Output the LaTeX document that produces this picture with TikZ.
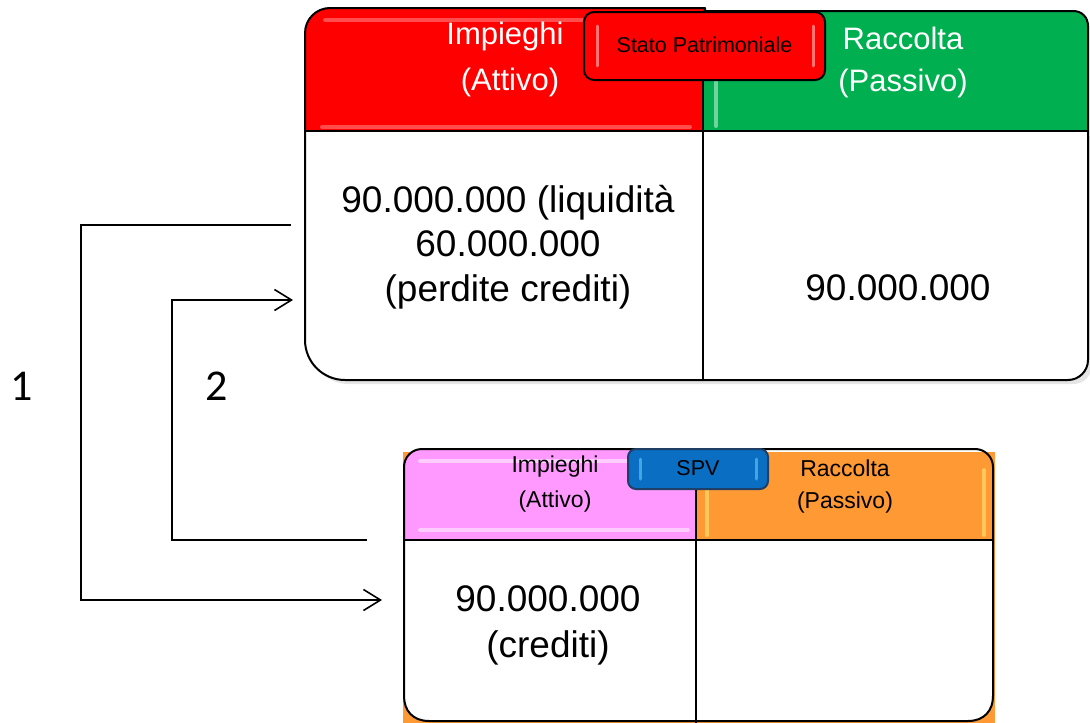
\documentclass[tikz,border=0pt]{standalone}
\usepackage{fontspec}
\setmainfont{Liberation Sans}
\newfontfamily\calfont{Carlito}
\usetikzlibrary{arrows.meta}
\definecolor{cRed}{HTML}{FF0000}
\definecolor{cGreen}{HTML}{00B050}
\definecolor{cPink}{HTML}{FF99FF}
\definecolor{cOrange}{HTML}{FF9933}
\definecolor{cBlue}{HTML}{0A6EC2}
\definecolor{cBlueDark}{HTML}{1F3F66}
\begin{document}
\begin{tikzpicture}[x=1pt,y=-1pt,
  boxline/.style={draw=black,line width=2pt,line join=round},
  hl/.style={line width=4pt,line cap=round,opacity=0.3},
  arr/.style={line width=1.6pt,-{Straight Barb[length=17pt,width=21pt,line width=1.6pt]}},
  hdrW/.style={text=white,font=\fontsize{31}{36}\selectfont,inner sep=0pt},
  hdrB/.style={text=black,font=\fontsize{23}{28}\selectfont,inner sep=0pt},
  bodytxt/.style={text=black,font=\fontsize{37}{44.5}\selectfont,align=center,inner sep=0pt},
  tabtxt/.style={text=black,font=\fontsize{21.5}{26}\selectfont,inner sep=0pt},
  lbl/.style={text=black,font=\calfont\fontsize{44}{50}\selectfont,inner sep=0pt}]
\useasboundingbox (0,0) rectangle (1090,723);
\fill[white] (0,0) rectangle (1090,723);

% ---------- top box (Stato Patrimoniale) ----------
% shadow
\fill[black!10] (309,136) -- (309,344) .. controls (309,366) and (327,384) .. (349,384) -- (1073,384) .. controls (1084,384) and (1092,376) .. (1092,364) -- (1092,136) -- cycle;
% left part header (red)
\fill[cRed] (305,131) -- (305,33) .. controls (305,19.2) and (316.2,8) .. (330,8) -- (705,8) -- (705,131) -- cycle;
% left part body
\fill[white] (305,131) -- (305,340) .. controls (305,362.1) and (322.9,380) .. (345,380) -- (703,380) -- (703,131) -- cycle;
% right part header (green)
\fill[cGreen] (703,11) -- (1073,11) .. controls (1081.8,11) and (1088,17.2) .. (1088,26) -- (1088,131) -- (703,131) -- cycle;
% right part body
\fill[white] (703,131) -- (1088,131) -- (1088,360) .. controls (1088,371) and (1079,380) .. (1068,380) -- (703,380) -- cycle;
% highlights
\draw[hl,white] (325,20) -- (690,20);
\draw[hl,white] (322,127) -- (690,127);
\draw[hl,white,opacity=0.45] (716,30) -- (716,126);
% outlines
\draw[boxline] (703,380) -- (345,380) .. controls (322.9,380) and (305,362.1) .. (305,340) -- (305,33) .. controls (305,19.2) and (316.2,8) .. (330,8) -- (705,8) -- (705,11);
\draw[boxline] (703,11) -- (1073,11) .. controls (1081.8,11) and (1088,17.2) .. (1088,26) -- (1088,360) .. controls (1088,371) and (1079,380) .. (1068,380) -- (703,380);
\draw[boxline] (305,131) -- (1088,131);
\draw[boxline] (703,11) -- (703,380);
% tab
\draw[boxline,fill=cRed,rounded corners=10pt] (584,12) rectangle (825,80);
\draw[hl,white,opacity=0.45,line width=3pt] (597,26) -- (597,66);
\draw[hl,white,opacity=0.45,line width=3pt] (813,26) -- (813,66);
\node[tabtxt] (tabSP) at (704.5,45) {Stato Patrimoniale};
% header texts
\node[hdrW] (imp1) at (505,36) {Impieghi};
\node[hdrW] (att1) at (510,82) {(Attivo)};
\node[hdrW] (rac1) at (903,38) {Raccolta};
\node[hdrW] (pas1) at (903,83) {(Passivo)};
% body texts
\node[bodytxt] (bodyL1) at (508,247) {90.000.000 (liquidità\\60.000.000\\(perdite crediti)};
\node[bodytxt] (bodyR1) at (898,288) {90.000.000};

% ---------- bottom box (SPV) ----------
\fill[cOrange] (403,452) rectangle (995,723);
% left header pink
\fill[cPink] (404,540) -- (404,467) .. controls (404,457) and (412,449) .. (422,449) -- (696,449) -- (696,540) -- cycle;
% left body
\fill[white] (404,540) -- (404,696) .. controls (404,710.4) and (412.6,721) .. (429,721) -- (696,721) -- (696,540) -- cycle;
% right body
\fill[white] (696,540) -- (993,540) -- (993,696) .. controls (993,710.4) and (984.4,721) .. (968,721) -- (696,721) -- cycle;
% highlights
\draw[hl,white,opacity=0.5] (420,461) -- (640,461);
\draw[hl,white,opacity=0.5] (420,530) -- (688,530);
\draw[hl,yellow!50!white,opacity=0.5] (707,462) -- (707,535);
\draw[hl,yellow!50!white,opacity=0.5] (984,470) -- (984,535);
% outlines
\draw[boxline] (696,721) -- (429,721) .. controls (412.6,721) and (404,710.4) .. (404,696) -- (404,467) .. controls (404,457) and (412,449) .. (422,449) -- (975,449) .. controls (985,449) and (993,457) .. (993,467) -- (993,696) .. controls (993,710.4) and (984.4,721) .. (968,721) -- (696,721);
\draw[boxline] (404,540) -- (993,540);
\draw[boxline] (696,449) -- (696,723);
% SPV tab
\draw[boxline,draw=cBlueDark,fill=cBlue,rounded corners=8pt] (628,449) rectangle (768,489);
\draw[hl,cyan!60!white,opacity=0.6,line width=3pt] (640,459) -- (640,479);
\draw[hl,cyan!60!white,opacity=0.6,line width=3pt] (756,459) -- (756,479);
\node[tabtxt] (tabSPV) at (698,468) {SPV};
% header texts
\node[hdrB] (imp2) at (555,467) {Impieghi};
\node[hdrB] (att2) at (555,502) {(Attivo)};
\node[hdrB] (rac2) at (845,468) {Raccolta};
\node[hdrB] (pas2) at (845,503) {(Passivo)};
% body text
\node[bodytxt,font=\fontsize{37}{46}\selectfont] (bodyL2) at (548,625) {90.000.000\\(crediti)};

% ---------- connectors ----------
\coordinate (s1) at (291,225);
\coordinate (k1) at (81,225);
\coordinate (e1) at (382,600);
\draw[arr] (s1) -- (k1) |- (e1);
\coordinate (s2) at (367,540);
\coordinate (k2) at (172,540);
\coordinate (e2) at (293,300);
\draw[arr] (s2) -- (k2) |- (e2);
\node[lbl] (l1) at (22,386) {1};
\node[lbl] (l2) at (217,386) {2};
\end{tikzpicture}
\end{document}
